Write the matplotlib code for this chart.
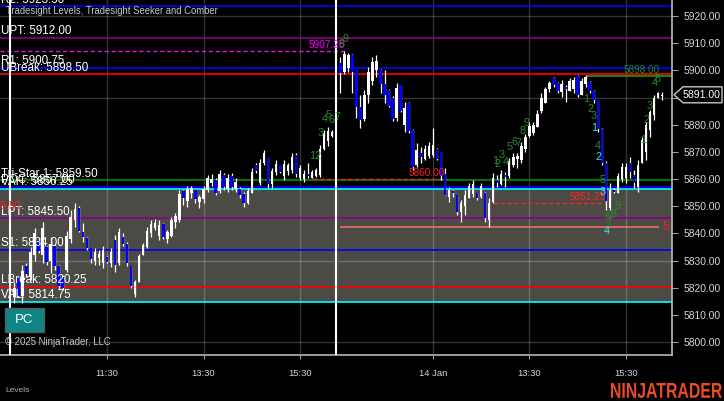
import matplotlib
matplotlib.use("Agg")
import matplotlib.pyplot as plt
import matplotlib.transforms as mtransforms
from matplotlib.patches import Polygon, Rectangle, PathPatch
from matplotlib.textpath import TextPath
from matplotlib.font_manager import FontProperties

plt.rcParams["font.family"] = ["Liberation Sans", "DejaVu Sans"]

# ── DATA ──────────────────────────────────────────────────────────────────────
# 5-minute bars, x = bar index (day 1: 1..80, day 2: 82..162)
D1_IDX = list(range(1, 81))
D1_OPEN = [5816.5, 5823.5, 5817, 5828, 5824, 5832, 5837.5, 5832, 5835, 5830,
           5835.5, 5828, 5824, 5826.5, 5838, 5845, 5849.5, 5840.5, 5838.25, 5834.5,
           5830, 5831, 5829, 5831.25, 5829, 5837.5, 5829, 5838.5, 5836, 5828,
           5817.5, 5822, 5832, 5835, 5840, 5842, 5839, 5843.5, 5838, 5839,
           5844, 5845, 5855.5, 5852, 5855, 5856, 5851.5, 5852.5, 5856, 5858.5,
           5859.75, 5855.5, 5861.5, 5856.5, 5861.25, 5856.5, 5856.5, 5854.5, 5851, 5855,
           5865, 5858.5, 5866, 5868, 5858, 5862.5, 5865, 5861, 5863, 5863.5,
           5869, 5860.5, 5860, 5862, 5860.5, 5861, 5861.5, 5871, 5874, 5876]
D1_HIGH = [5822, 5824, 5828.25, 5829, 5835, 5842, 5838, 5844, 5835.5, 5838.5,
           5836, 5828.5, 5824.5, 5841, 5848.5, 5851, 5850, 5843.75, 5838.5, 5834.75,
           5834.5, 5834, 5835.5, 5831.5, 5834.5, 5839.5, 5842, 5840, 5836.75, 5828,
           5822.75, 5832.5, 5836.5, 5842.25, 5845, 5845.25, 5845, 5843.75, 5841.25, 5846,
           5847.5, 5856, 5856, 5857.5, 5857.5, 5856, 5854, 5857.5, 5861.5, 5861.75,
           5860.25, 5863.25, 5862.25, 5861.75, 5862.25, 5860.25, 5857, 5855.25, 5856.75, 5864,
           5866, 5867.25, 5870.75, 5868.25, 5864, 5867, 5865.25, 5867, 5866, 5869.5,
           5869.5, 5865, 5863.25, 5865.75, 5863.25, 5864, 5872.5, 5878, 5879, 5878]
D1_LOW = [5814.5, 5816.5, 5814.5, 5824, 5822.75, 5830, 5832.75, 5829, 5828.5, 5825.5,
          5826.5, 5819, 5819, 5825.75, 5836.5, 5842.25, 5840.5, 5836.75, 5833.75, 5829,
          5828.25, 5828.5, 5827.25, 5829, 5827.5, 5825.75, 5828.25, 5835.5, 5828, 5819.75,
          5816.5, 5822, 5832, 5834.5, 5838.75, 5841.25, 5837.5, 5838, 5836.5, 5838.75,
          5842, 5844.25, 5850.5, 5849.75, 5853, 5851, 5849.25, 5851.25, 5855.25, 5857.25,
          5854, 5855, 5856, 5855.25, 5856, 5855.25, 5853, 5849.75, 5850.75, 5854.75,
          5862.25, 5857.75, 5865.25, 5856.75, 5856.75, 5861.5, 5862.25, 5859.75, 5861.5, 5862.25,
          5860.75, 5859.75, 5858.75, 5860.5, 5860.25, 5860.75, 5860.75, 5870.5, 5872, 5875.5]
D1_CLOSE = [5820, 5817, 5826, 5825, 5833, 5840, 5833.5, 5842, 5829.5, 5836,
            5828, 5820.5, 5820, 5839, 5846, 5849, 5841, 5838.75, 5834.5, 5830.5,
            5833, 5832.5, 5834, 5829.5, 5833, 5828.5, 5840.5, 5836, 5829, 5820.5,
            5822, 5831.5, 5835.75, 5841, 5843.5, 5843.75, 5843, 5838.75, 5840.5, 5845,
            5846.5, 5854.5, 5853, 5856.5, 5856.75, 5852.5, 5853.5, 5856.5, 5860.5, 5860,
            5855, 5861.75, 5857, 5860.5, 5857, 5859, 5854, 5851, 5855.5, 5862.5,
            5863, 5866, 5869.5, 5858, 5863, 5865.5, 5862.75, 5865.5, 5865, 5868,
            5862, 5864, 5862, 5861.25, 5862.5, 5863.5, 5871, 5877, 5877.5, 5877.25]

D2_IDX = list(range(82, 163))
D2_OPEN = [5902.75, 5899.5, 5901, 5905.5, 5900, 5886.5, 5882, 5891, 5896, 5900,
           5900, 5895, 5892.75, 5890, 5882.5, 5894.5, 5880, 5888, 5878, 5865,
           5869.5, 5867.5, 5868.5, 5869, 5871, 5870, 5862, 5853.5, 5855.5, 5854,
           5848, 5850, 5853, 5854.5, 5855, 5853.5, 5855, 5845, 5851.5, 5859.5,
           5858, 5861.5, 5861, 5865, 5867.5, 5867, 5871, 5876, 5877, 5879,
           5885, 5888, 5893, 5897, 5895.5, 5892, 5893.75, 5892.5, 5893, 5898,
           5891, 5895, 5895.75, 5892.5, 5889, 5878.5, 5866, 5849.5, 5856, 5855,
           5860, 5860.5, 5866, 5861.5, 5857, 5866, 5870, 5878, 5883.5, 5890, 5890.5]
D2_HIGH = [5905, 5907.25, 5906.5, 5906, 5900.25, 5891, 5892.75, 5901.25, 5904.75, 5905.5,
           5900.5, 5900, 5893, 5890.5, 5895.5, 5894.75, 5888.25, 5888.25, 5878.25, 5873.25,
           5871.75, 5872.5, 5873.5, 5878.75, 5871.5, 5870, 5864, 5857, 5856, 5854.25,
           5852.25, 5856, 5858.5, 5859.75, 5855, 5858.5, 5855.25, 5853, 5862.25, 5861.5,
           5863.25, 5862.5, 5867.75, 5869.5, 5869.5, 5873.75, 5876.5, 5881, 5881, 5885.5,
           5891.75, 5894, 5896, 5897.5, 5895.75, 5896.5, 5894.5, 5897.25, 5897.5, 5898.25,
           5897.25, 5898.25, 5896, 5892.75, 5889.25, 5878.75, 5866.5, 5858.5, 5856.75, 5862.25,
           5866, 5866, 5868, 5863.25, 5867, 5875.5, 5881, 5885.5, 5890.75, 5892, 5892]
D2_LOW = [5891.75, 5898.5, 5899.5, 5891.75, 5882.5, 5878.75, 5881.5, 5888, 5894.5, 5897.5,
          5891.75, 5888, 5886.5, 5881.5, 5881.5, 5884.5, 5877.25, 5877, 5863.25, 5864.5,
          5865.75, 5867, 5867.75, 5868, 5867, 5859.75, 5854, 5851.5, 5853.25, 5846.75,
          5844.25, 5846.75, 5853, 5853.25, 5852.25, 5853, 5844.25, 5842.25, 5851, 5857,
          5857.75, 5857, 5860.25, 5864.5, 5864, 5865.75, 5870, 5875.5, 5876.25, 5879,
          5884.25, 5888, 5892, 5893.75, 5891.75, 5890.25, 5888.5, 5892.25, 5891.75, 5890.25,
          5891, 5893.75, 5891.75, 5888, 5877.25, 5865.25, 5848.5, 5848.5, 5854.75, 5854.75,
          5859, 5858.5, 5860.5, 5856.75, 5855.25, 5865.75, 5867, 5875.5, 5881.75, 5889.75, 5889.25]
D2_CLOSE = [5899, 5906, 5905.5, 5899.5, 5886.5, 5881.75, 5891, 5899.5, 5903, 5903.5,
            5895, 5891, 5887, 5882.25, 5893.5, 5885, 5886, 5877.5, 5864.5, 5870.5,
            5868.25, 5871, 5872, 5872.5, 5867.5, 5861, 5854.25, 5856, 5855, 5848,
            5851, 5854, 5857.5, 5858, 5853, 5857.5, 5845.5, 5851, 5860.5, 5858.5,
            5862, 5860.75, 5866.5, 5868, 5868.5, 5872, 5875.5, 5879.5, 5879.75, 5884,
            5890, 5893, 5895.5, 5894.5, 5892.5, 5895, 5893, 5896, 5896.5, 5891,
            5896, 5897.5, 5892.5, 5889, 5878.5, 5866, 5852, 5856, 5855.25, 5861,
            5864.5, 5864.5, 5862.5, 5858.5, 5865, 5874.5, 5880, 5884.5, 5890, 5891.5, 5891]

LAST_PRICE = 5891.00
SESSION_START = [0, 81]
TIME_TICKS = [24, 48, 72, 105, 129, 153]
TIME_LABELS = ["11:30", "13:30", "15:30", "14 Jan", "13:30", "15:30"]
PRICE_TICKS = list(range(5800, 5921, 10))
GRID_PRICES = [5800, 5830, 5860, 5890, 5920]

# Tradesight levels: name, price, colour
LEVEL_NAMES = ["R2", "UPT", "R1", "UBreak", "Tri-Star 1", "POC", "VAH", "LPT", "S1", "LBreak", "VAL"]
LEVEL_PRICES = [5923.50, 5912.00, 5900.75, 5898.50, 5859.50, 5857.00, 5856.25, 5845.50, 5834.00, 5820.25, 5814.75]
LEVEL_COLORS = ["#0000ff", "#8a008a", "#0000ff", "#ff0000", "#008000", "#0000ff", "#00ffff",
                "#8a008a", "#0000ff", "#ff0000", "#00ffff"]
VALUE_AREA = (5814.75, 5856.25)

# Seeker / Comber counts
GREEN_TXT = ["12", "3", "4", "5", "6", "7", "8", "9",
             "1", "2", "3", "4", "5", "6", "7", "8", "9",
             "1", "2", "3", "4", "5", "6", "7", "8", "9",
             "1", "2", "3", "4", "5"]
GREEN_X = [75.8, 77.2, 78.2, 79.2, 79.9, 81.2, 82.4, 83.2,
           120.5, 121.2, 122.2, 123.2, 124.2, 125.2, 126.2, 127.2, 128.2,
           143.1, 144.1, 145.1, 146.1, 147.1, 148.3, 149.0, 150.0, 151.0,
           157.2, 158.2, 159.0, 160.2, 161.0]
GREEN_Y = [5868.5, 5876.9, 5882.1, 5883.6, 5881.7, 5882.8, 5909.7, 5911.5,
           5866.6, 5865.5, 5868.9, 5866.3, 5871.8, 5873.6, 5873.3, 5877.7, 5880.6,
           5889.5, 5885.8, 5883.2, 5872.2, 5859.6, 5846.0, 5844.2, 5847.1, 5850.1,
           5874.4, 5881.7, 5886.9, 5895.4, 5896.8]
CYAN_TXT = ["1", "2", "3", "4"]
CYAN_X = [145.1, 146.1, 147.1, 148.3]
CYAN_Y = [5878.8, 5868.1, 5855.2, 5840.9]

# ── FIGURE ────────────────────────────────────────────────────────────────────
FW, FH, DPI = 724, 401, 100
PLOT_R, PLOT_B = 672, 355
BAR0_PX, BAR_PX = 10.4, 4.023
Y_TOP, PX_PER_PT = 5925.89, 2.717

fig = plt.figure(figsize=(FW / DPI, FH / DPI), dpi=DPI, facecolor="black")
ax = fig.add_axes([0, 1 - PLOT_B / FH, PLOT_R / FW, PLOT_B / FH], facecolor="black")
ax.set_xlim(-BAR0_PX / BAR_PX, (PLOT_R - BAR0_PX) / BAR_PX)
ax.set_ylim(Y_TOP - PLOT_B / PX_PER_PT, Y_TOP)
x0 = ax.get_xlim()[0]

# value area band and grid
ax.axhspan(*VALUE_AREA, color="#4c4a44", zorder=0.5, lw=0)
for p in GRID_PRICES:
    ax.axhline(p, color="white", alpha=0.2, lw=1, zorder=1)
for t in TIME_TICKS:
    ax.axvline(t, color="white", alpha=0.2, lw=1, zorder=1)

# levels
for name, p, c in zip(LEVEL_NAMES, LEVEL_PRICES, LEVEL_COLORS):
    ax.axhline(p, color=c, lw=1.2, zorder=2)
    ax.text(x0 + 0.2, p + 0.3, f"{name}: {p:.2f}", color="white", fontsize=8.4,
            va="bottom", ha="left", zorder=6, clip_on=True)

ax.text(2.7, 5850.0, "5848.50", color="#ff2020", fontsize=7.2, ha="right", va="center", zorder=6, clip_on=True)

# seeker lines
ax.hlines(5907.25, x0, 83.5, colors="#ff00ff", linestyles=(0, (3, 2)), lw=1, zorder=2)
ax.text(83.2, 5907.5, "5907.25", color="#ff00ff", fontsize=7.2, ha="right", va="bottom", zorder=6)
ax.hlines(5860.00, 75.2, 108.0, colors="#ff2020", linestyles=(0, (3, 2)), lw=1, zorder=2)
ax.text(108.0, 5860.3, "5860.00", color="#ff2020", fontsize=7.2, ha="right", va="bottom", zorder=6)
ax.hlines(5851.25, 120.0, 148.0, colors="#ff2020", linestyles=(0, (3, 2)), lw=1, zorder=2)
ax.text(148.0, 5851.5, "5851.25", color="#ff2020", fontsize=7.2, ha="right", va="bottom", zorder=6)
ax.hlines(5898.00, 143.3, ax.get_xlim()[1], colors="#1f9a1f", lw=1.2, zorder=2)
ax.text(161.5, 5898.3, "5898.00", color="#1f8f1f", fontsize=7.2, ha="right", va="bottom", zorder=6)
ax.hlines(5842.25, 82.0, 161.3, colors="#ec705c", lw=1.2, zorder=2)
ax.text(163.0, 5842.3, "5", color="#ff2020", fontsize=9, ha="center", va="center", zorder=6)

# session breaks
for s in SESSION_START:
    ax.axvline(s, color="white", lw=1.5, zorder=5)

# candles
def draw_candles(idx, o, h, l, c):
    ax.vlines(idx, l, h, colors="white", lw=0.9, zorder=3)
    for x, op, cl in zip(idx, o, c):
        col = "white" if cl >= op else "#0000ff"
        ax.bar(x, max(abs(cl - op), 0.25), bottom=min(op, cl), width=0.62,
               color=col, lw=0, zorder=4)

draw_candles(D1_IDX, D1_OPEN, D1_HIGH, D1_LOW, D1_CLOSE)
draw_candles(D2_IDX, D2_OPEN, D2_HIGH, D2_LOW, D2_CLOSE)

# counts
for t, x, y in zip(GREEN_TXT, GREEN_X, GREEN_Y):
    ax.text(x, y, t, color="#2a8c2a", fontsize=7.8, ha="center", va="center", zorder=6)
for t, x, y in zip(CYAN_TXT, CYAN_X, CYAN_Y):
    ax.text(x, y, t, color="#3ee6e6", fontsize=7.8, ha="center", va="center", zorder=6)

# axes styling
for side in ["top", "left"]:
    ax.spines[side].set_visible(False)
for side in ["right", "bottom"]:
    ax.spines[side].set_color("#b8b8b8")
    ax.spines[side].set_linewidth(1.2)
ax.yaxis.tick_right()
ax.set_yticks(PRICE_TICKS)
ax.set_yticklabels([f"{p:.2f}" for p in PRICE_TICKS])
ax.tick_params(axis="y", colors="#a0a0a0", labelcolor="#d4d4d4", labelsize=7.4, length=4, pad=4)
ax.set_xticks(TIME_TICKS)
ax.set_xticklabels(TIME_LABELS)
ax.tick_params(axis="x", colors="#a0a0a0", labelcolor="#d4d4d4", labelsize=6.8, length=3, pad=7)

# last price marker
tr = mtransforms.blended_transform_factory(fig.transFigure, ax.transData)
hh = 8 / PX_PER_PT
pts = [(674 / FW, LAST_PRICE), (683 / FW, LAST_PRICE + hh), (722 / FW, LAST_PRICE + hh),
       (722 / FW, LAST_PRICE - hh), (683 / FW, LAST_PRICE - hh)]
fig.patches.append(Polygon(pts, closed=True, transform=tr, facecolor="black",
                           edgecolor="#c8c8c8", lw=1))
fig.text(702 / FW, LAST_PRICE, f"{LAST_PRICE:.2f}", transform=tr, color="white",
         fontsize=7.6, ha="center", va="center")

# overlays
fig.text(6 / FW, 1 - 11 / FH, "Tradesight Levels, Tradesight Seeker and Comber",
         color="#c8c8c8", fontsize=6.85, ha="left", va="center")
fig.patches.append(Rectangle((5 / FW, 1 - 332 / FH), 39 / FW, 24 / FH, transform=fig.transFigure,
                             facecolor="#118585", edgecolor="#5a5a5a", lw=1))
fig.text(24.5 / FW, 1 - 320 / FH, "PC", color="white", fontsize=9.5, ha="center", va="center")
fig.text(5 / FW, 1 - 342 / FH, "\u00a9 2025 NinjaTrader, LLC", color="#c8c8c8",
         fontsize=6.9, ha="left", va="center")
fig.text(5 / FW, 1 - 391 / FH, "Levels", color="#b0b0b0", fontsize=6, ha="left", va="center")

# condensed logo: squeeze a bold text path into the box 611..722 x 383..398 px
logo = TextPath((0, 0), "NINJATRADER", size=1, prop=FontProperties(family="Liberation Sans", weight="bold"))
ext = logo.get_extents()
sx = 111 / ext.width
sy = 15 / ext.height
logo_tr = mtransforms.Affine2D().translate(-ext.x0, -ext.y0).scale(sx, sy).translate(611, FH - 398)
fig.add_artist(PathPatch(logo, transform=logo_tr, facecolor="#ea4a2a", lw=0))

fig.savefig("out.png", dpi=DPI, facecolor="black")
